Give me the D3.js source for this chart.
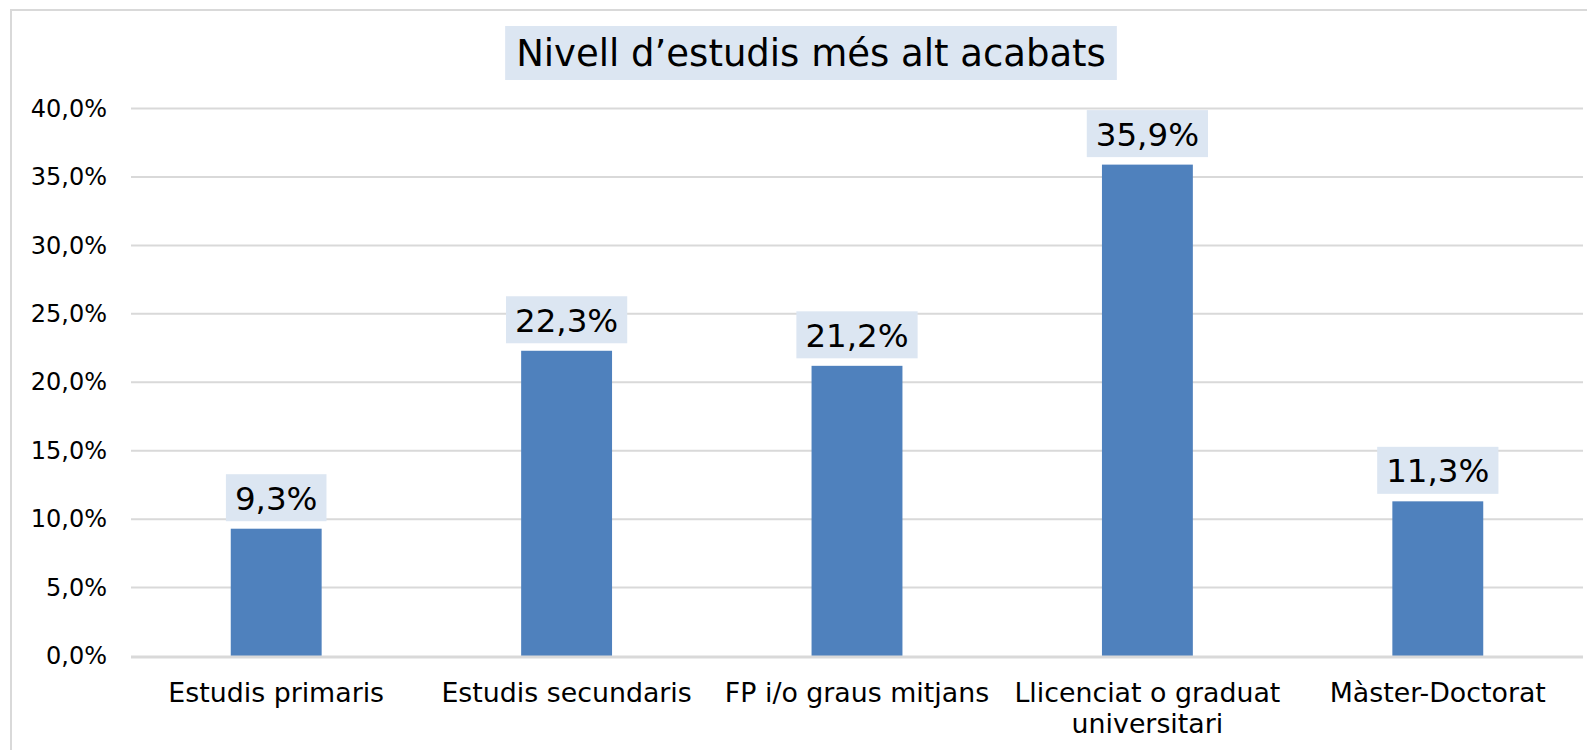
<!DOCTYPE html>
<html>
<head>
<meta charset="utf-8">
<script src="https://cdn.jsdelivr.net/npm/d3@7"></script>
<style>
  body { margin: 0; background: #fff; }
  svg { display: block; font-family: "DejaVu Sans", Verdana, sans-serif; }
</style>
</head>
<body>
<svg id="chart" width="1587" height="750"></svg>
<script>
// data
var categories = [["Estudis primaris"], ["Estudis secundaris"], ["FP i/o graus mitjans"], ["Llicenciat o graduat", "universitari"], ["Màster-Doctorat"]];
var values = [9.3, 22.3, 21.2, 35.9, 11.3];
var yTicks = [0, 5, 10, 15, 20, 25, 30, 35, 40];
var title = "Nivell d\u2019estudis més alt acabats";

(function() {
  var plotLeft = 131, plotRight = 1583, plotTop = 108.5, plotBottom = 656;

  var svg = d3.select("#chart");

  var fmt = function(v) { return d3.format(".1f")(v).replace(".", ",") + "%"; };

  // outer border (right and bottom run off the picture)
  svg.append("rect")
    .attr("x", 11).attr("y", 10)
    .attr("width", 1600).attr("height", 800)
    .attr("fill", "none").attr("stroke", "#d9d9d9").attr("stroke-width", 2);

  var x = d3.scaleBand()
    .domain(d3.range(categories.length))
    .range([plotLeft, plotRight])
    .paddingInner(0.687)
    .paddingOuter(0.3435);

  var y = d3.scaleLinear()
    .domain([0, 40])
    .range([plotBottom, plotTop]);

  // gridlines
  svg.append("g").selectAll("line")
    .data(yTicks.slice(1))
    .enter().append("line")
    .attr("x1", plotLeft).attr("x2", plotRight)
    .attr("y1", function(d) { return y(d); })
    .attr("y2", function(d) { return y(d); })
    .attr("stroke", "#d9d9d9").attr("stroke-width", 2);

  // y axis labels
  var yAxis = d3.axisLeft(y).tickValues(yTicks).tickFormat(fmt).tickSize(0).tickPadding(0);
  var yg = svg.append("g").attr("transform", "translate(107,0)").call(yAxis);
  yg.select(".domain").remove();
  yg.selectAll("text").attr("font-size", 24).attr("fill", "#000").attr("font-family", "DejaVu Sans");

  // bars
  svg.append("g").selectAll("rect")
    .data(values)
    .enter().append("rect")
    .attr("x", function(d, i) { return x(i); })
    .attr("width", x.bandwidth())
    .attr("y", function(d) { return y(d); })
    .attr("height", function(d) { return plotBottom - y(d); })
    .attr("fill", "#4f81bd");

  // baseline
  svg.append("line")
    .attr("x1", plotLeft).attr("x2", plotRight)
    .attr("y1", plotBottom + 1).attr("y2", plotBottom + 1)
    .attr("stroke", "#d9d9d9").attr("stroke-width", 3);

  // value labels with boxes
  var lab = svg.append("g").selectAll("g")
    .data(values)
    .enter().append("g");

  lab.append("text")
    .attr("x", function(d, i) { return x(i) + x.bandwidth() / 2; })
    .attr("y", function(d) { return y(d) - 19; })
    .attr("text-anchor", "middle")
    .attr("font-size", 32.5)
    .attr("fill", "#000")
    .text(fmt);

  lab.each(function() {
    var g = d3.select(this), t = g.select("text");
    var w = t.node().getComputedTextLength();
    var cx = +t.attr("x"), by = +t.attr("y");
    g.insert("rect", "text")
      .attr("x", cx - w / 2 - 9)
      .attr("y", by - 35.5)
      .attr("width", w + 18)
      .attr("height", 47)
      .attr("fill", "#dce6f2");
  });

  // x labels
  var xl = svg.append("g").selectAll("text")
    .data(categories)
    .enter().append("text")
    .attr("x", function(d, i) { return x(i) + x.bandwidth() / 2; })
    .attr("y", 702)
    .attr("text-anchor", "middle")
    .attr("font-size", 26.8)
    .attr("fill", "#000");

  xl.selectAll("tspan")
    .data(function(d) { return d; })
    .enter().append("tspan")
    .attr("x", function() { return d3.select(this.parentNode).attr("x"); })
    .attr("dy", function(d, i) { return i === 0 ? 0 : 31; })
    .text(function(d) { return d; });

  // title
  var tg = svg.append("g");
  var tbox = tg.append("rect").attr("fill", "#dce6f2");
  var tt = tg.append("text")
    .attr("x", 811)
    .attr("y", 66)
    .attr("text-anchor", "middle")
    .attr("font-size", 37)
    .attr("fill", "#000")
    .text(title);
  var tw = tt.node().getComputedTextLength();
  tbox.attr("x", 811 - tw / 2 - 11)
    .attr("y", 26)
    .attr("width", tw + 22)
    .attr("height", 54);
})();
</script>
</body>
</html>
